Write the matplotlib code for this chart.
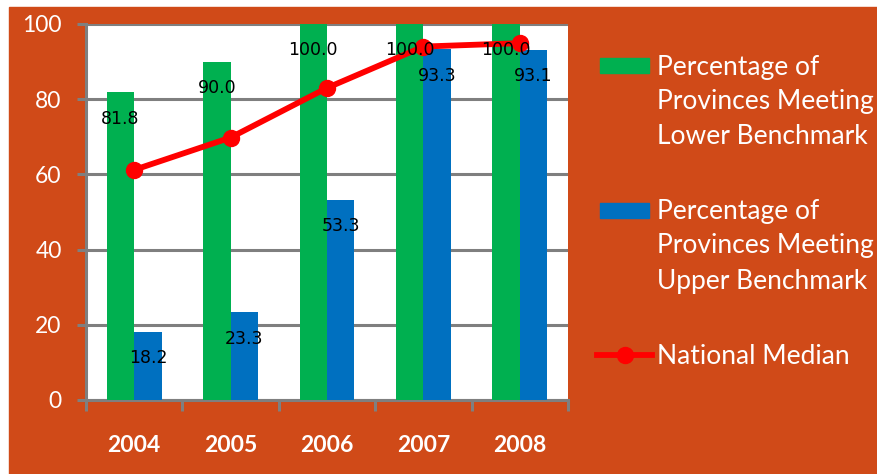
import matplotlib.pyplot as plt
import matplotlib.patches as mpatches
from matplotlib.lines import Line2D
import numpy as np

# Data
years = ['2004', '2005', '2006', '2007', '2008']
lower_pct = [81.8, 90.0, 100.0, 100.0, 100.0]
upper_pct = [18.2, 23.3, 53.3, 93.3, 93.1]
national_median = [61.2, 69.8, 83.0, 94.0, 94.9]
series_names = ['Percentage of\nProvinces Meeting\nLower Benchmark',
                'Percentage of\nProvinces Meeting\nUpper Benchmark',
                'National Median']

bg = '#D04A18'
green = '#00B050'
blue = '#0070C0'
red = '#FF0000'
grid_gray = '#7F7F7F'

W, H = 878, 474
fig = plt.figure(figsize=(W / 100, H / 100), dpi=100, facecolor='white')
# orange backdrop with thin white margin top/left
fig.patches.append(mpatches.Rectangle((9 / W, 0), 1 - 9 / W, 1 - 7 / H,
                                      transform=fig.transFigure, color=bg, zorder=-10))

ax = fig.add_axes([86 / W, 1 - 400 / H, (568 - 86) / W, (400 - 24) / H])
ax.set_facecolor('white')

x = np.arange(len(years))
bw = 0.285
ax.bar(x - bw / 2, lower_pct, bw, color=green, zorder=3)
ax.bar(x + bw / 2, upper_pct, bw, color=blue, zorder=3)
ax.plot(x, national_median, color=red, lw=4.2, marker='o', ms=11.5, zorder=4)

# data labels
for xi, v in zip(x, lower_pct):
    ax.text(xi - bw / 2, v - 7, f'{v:.1f}', ha='center', va='center',
            fontsize=12.5, color='black', family='DejaVu Sans', zorder=5)
for xi, v in zip(x, upper_pct):
    ax.text(xi + bw / 2, v - 7, f'{v:.1f}', ha='center', va='center',
            fontsize=12.5, color='black', family='DejaVu Sans', zorder=5)

ax.set_xlim(-0.5, len(years) - 0.5)
ax.set_ylim(0, 100)
ax.set_yticks(range(0, 101, 20))
ax.set_xticks(x)
ax.set_xticklabels(years)
ax.set_xticks(np.arange(-0.5, len(years), 1), minor=True)

ax.grid(axis='y', color=grid_gray, lw=2.2, zorder=1)
ax.set_axisbelow(True)
for s in ['top', 'right']:
    ax.spines[s].set_visible(False)
for s in ['left', 'bottom']:
    ax.spines[s].set_color(grid_gray)
    ax.spines[s].set_linewidth(2.2)
    ax.spines[s].set_zorder(2)

ax.tick_params(axis='y', colors=grid_gray, length=6.5, width=2.2, pad=11,
               labelcolor='white', labelsize=16.5)
ax.tick_params(axis='x', which='major', length=0, pad=25, labelcolor='white', labelsize=16.5)
ax.tick_params(axis='x', which='minor', colors=grid_gray, length=8, width=2.2)
for lab in ax.get_yticklabels():
    lab.set_family('Lato')
for lab in ax.get_xticklabels():
    lab.set_family('Lato')
    lab.set_fontweight('bold')

# legend drawn by hand to match spacing
def fy(py):
    return 1 - py / H

fig.patches.append(mpatches.Rectangle((600 / W, fy(73)), 49 / W, 15 / H,
                                      transform=fig.transFigure, color=green, zorder=3))
fig.patches.append(mpatches.Rectangle((600 / W, fy(218)), 49 / W, 15 / H,
                                      transform=fig.transFigure, color=blue, zorder=3))
fig.lines.append(Line2D([597 / W, 652 / W], [fy(355), fy(355)], transform=fig.transFigure,
                        color=red, lw=4.2, zorder=3))
fig.lines.append(Line2D([625 / W], [fy(355)], transform=fig.transFigure,
                        color=red, marker='o', ms=11.5, zorder=3))

for name, mid in zip(series_names, [102, 246, 356]):
    fig.text(657 / W, fy(mid), name, ha='left', va='center', color='white',
             fontsize=19, family='Lato', linespacing=1.5)

fig.savefig('out.png', dpi=100, facecolor=fig.get_facecolor())
